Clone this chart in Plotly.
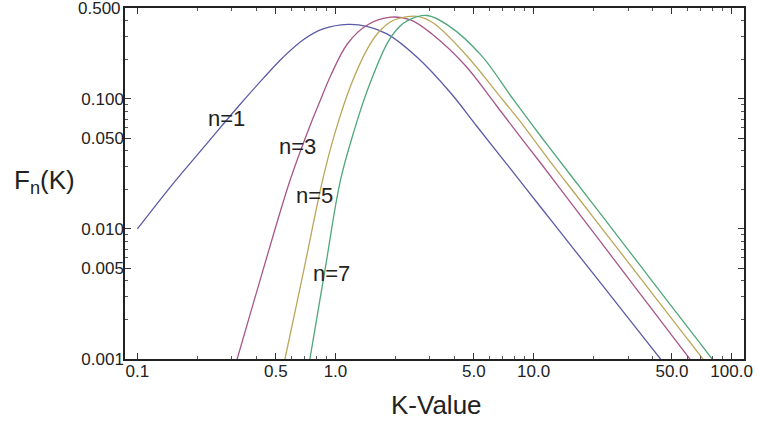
import plotly.graph_objects as go

# ---- data (K, F_n(K)) ----
K1 = [0.100, 0.154, 0.222, 0.319, 0.434, 0.546, 0.688, 0.866, 1.155, 1.454, 1.830, 2.585, 3.80, 5.16, 7.5, 11.0, 16.0, 24.0, 35.0, 43.75, 50.0]
F1 = [0.0100, 0.0230, 0.0445, 0.0855, 0.145, 0.210, 0.285, 0.345, 0.374, 0.360, 0.315, 0.209, 0.112, 0.0619, 0.0301, 0.01436, 0.00697, 0.00319, 0.00154, 0.00100, 0.00077]

K3 = [0.300, 0.319, 0.4315, 0.590, 0.743, 0.818, 0.953, 1.155, 1.454, 1.90, 2.393, 3.07, 4.49, 6.49, 8.5, 11.0, 16.0, 24.0, 35.0, 50.0, 61.5, 70.0]
F3 = [0.00074, 0.00100, 0.00487, 0.0237, 0.0620, 0.0890, 0.155, 0.268, 0.372, 0.425, 0.406, 0.316, 0.183, 0.089, 0.052, 0.0313, 0.01479, 0.00657, 0.00309, 0.00151, 0.00100, 0.000773]

K5 = [0.530, 0.556, 0.693, 0.861, 0.991, 1.20, 1.454, 1.663, 1.90, 2.133, 2.585, 3.13, 4.60, 6.75, 8.5, 12.0, 17.0, 25.0, 36.0, 52.0, 71.6, 80.0]
F5 = [0.00072, 0.00100, 0.00487, 0.0237, 0.0538, 0.129, 0.245, 0.330, 0.392, 0.420, 0.431, 0.382, 0.215, 0.105, 0.068, 0.0337, 0.0170, 0.00795, 0.00388, 0.00188, 0.00100, 0.000804]

K7 = [0.720, 0.743, 0.886, 1.06, 1.247, 1.454, 1.83, 2.05, 2.30, 2.90, 3.72, 5.46, 7.87, 11.12, 16.0, 24.0, 35.0, 50.0, 65.0, 79.7, 90.0]
F7 = [0.00075, 0.00100, 0.00487, 0.0237, 0.058, 0.118, 0.270, 0.345, 0.398, 0.438, 0.366, 0.215, 0.100, 0.0494, 0.0240, 0.0108, 0.0051, 0.00252, 0.00150, 0.00100, 0.000787]

series_names = ["n=1", "n=3", "n=5", "n=7"]
series_colors = ["#5b5aa6", "#a7568a", "#b9a75a", "#4fa77a"]

x_tick_vals = [0.1, 0.5, 1.0, 5.0, 10.0, 50.0, 100.0]
x_tick_text = ["0.1", "0.5", "1.0", "5.0", "10.0", "50.0", "100.0"]
x_minor_vals = [0.2, 0.3, 0.4, 0.6, 0.7, 0.8, 0.9, 2, 3, 4, 6, 7, 8, 9, 20, 30, 40, 60, 70, 80, 90]
y_tick_vals = [0.001, 0.005, 0.010, 0.050, 0.100]
y_tick_text = ["0.001", "0.005", "0.010", "0.050", "0.100"]
y_top_value = 0.500
y_top_text = "0.500"
y_minor_vals = [0.002, 0.003, 0.004, 0.006, 0.007, 0.008, 0.009, 0.02, 0.03, 0.04, 0.06, 0.07, 0.08, 0.09, 0.2, 0.3, 0.4]

FONT = "Arial, Liberation Sans, sans-serif"
TICKFONT = dict(family=FONT, size=17, color="#222")

fig = go.Figure()
for xs, ys, name, col in zip([K1, K3, K5, K7], [F1, F3, F5, F7], series_names, series_colors):
    fig.add_trace(go.Scatter(x=xs, y=ys, mode="lines", name=name,
                             line=dict(color=col, width=1.3, shape="spline", smoothing=1.0),
                             showlegend=False, hoverinfo="skip"))

axis_common = dict(showline=True, linecolor="#222", linewidth=1.5, mirror="allticks",
                   ticks="inside", ticklen=6, tickwidth=1, tickcolor="#333",
                   showgrid=False, zeroline=False, tickfont=TICKFONT)

fig.update_xaxes(type="log", range=[-1.0625, 2.0625], tickmode="array",
                 tickvals=x_tick_vals, ticktext=x_tick_text, ticklabelstandoff=-4,
                 minor=dict(tickmode="array", tickvals=x_minor_vals, ticks="inside", ticklen=3,
                            tickcolor="#555", showgrid=False),
                 **axis_common)
fig.update_yaxes(type="log", range=[-3.0002, -0.3008], tickmode="array",
                 tickvals=y_tick_vals, ticktext=y_tick_text, ticklabelstandoff=-4,
                 minor=dict(tickmode="array", tickvals=y_minor_vals, ticks="inside", ticklen=3,
                            tickcolor="#555", showgrid=False),
                 **axis_common)
# the top label (0.500) sits exactly on the frame edge, so it is written as an annotation
fig.add_annotation(xref="paper", yref="paper", x=-0.0035, y=1.0, text=y_top_text,
                   showarrow=False, xanchor="right", yanchor="middle", font=TICKFONT)

annots = [
    dict(text="n=1", x=0.164, y=0.6856),
    dict(text="n=3", x=0.2784, y=0.606),
    dict(text="n=5", x=0.3056, y=0.4646),
    dict(text="n=7", x=0.3344, y=0.2436),
]
for a in annots:
    fig.add_annotation(xref="paper", yref="paper", showarrow=False, xanchor="center", yanchor="middle",
                       font=dict(family=FONT, size=22, color="#222"), **a)

fig.add_annotation(xref="paper", yref="paper", x=0.504, y=-0.1303, text="K-Value", showarrow=False,
                   xanchor="center", yanchor="middle", font=dict(family=FONT, size=26, color="#222"))
fig.add_annotation(xref="paper", yref="paper", x=-0.1296, y=0.507, text="F<sub>n</sub>(K)", showarrow=False,
                   xanchor="center", yanchor="middle", font=dict(family=FONT, size=26, color="#222"))

fig.update_layout(width=759, height=425, margin=dict(l=125, r=9, t=6, b=66),
                  paper_bgcolor="white", plot_bgcolor="white")

fig.write_html("out.html", config={"displayModeBar": False},
               post_script="document.body.style.margin='0';document.documentElement.style.margin='0';")
